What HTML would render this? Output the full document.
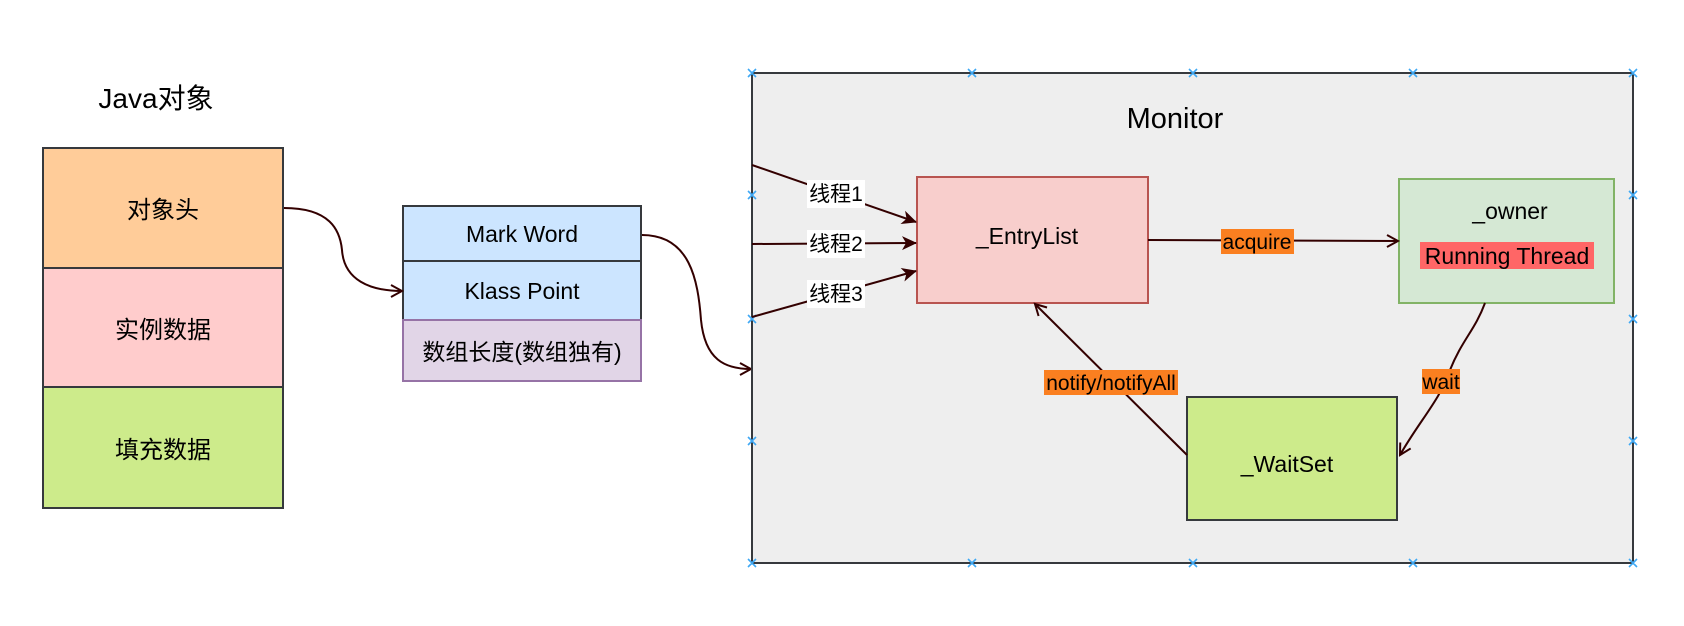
<!DOCTYPE html>
<html><head><meta charset="utf-8"><style>
html,body{margin:0;padding:0;background:#fff;}
svg{display:block;}
text{font-family:"Liberation Sans","Noto Sans CJK SC",sans-serif;fill:#000;}
</style></head><body>
<svg width="1684" height="626" viewBox="0 0 1684 626" xmlns="http://www.w3.org/2000/svg">
<defs>
<marker id="open" markerWidth="14" markerHeight="14" refX="12" refY="7" orient="auto" markerUnits="userSpaceOnUse">
<path d="M1,1 L12,7 L1,13" fill="none" stroke="#330000" stroke-width="2"/></marker>
<marker id="fill" markerWidth="16" markerHeight="16" refX="14" refY="8" orient="auto" markerUnits="userSpaceOnUse">
<path d="M0,1 L15,8 L0,15 L4,8 Z" fill="#330000"/></marker>
</defs>

<text x="156" y="108" font-size="28" text-anchor="middle">Java对象</text>
<rect x="43" y="148" width="240" height="120" fill="#ffcc99" stroke="#36393d" stroke-width="2"/>
<rect x="43" y="268" width="240" height="119" fill="#ffcccc" stroke="#36393d" stroke-width="2"/>
<rect x="43" y="387" width="240" height="121" fill="#cdeb8b" stroke="#36393d" stroke-width="2"/>
<text x="163" y="218" font-size="24" text-anchor="middle">对象头</text>
<text x="163" y="338" font-size="24" text-anchor="middle">实例数据</text>
<text x="163" y="458" font-size="24" text-anchor="middle">填充数据</text>

<rect x="403" y="206" width="238" height="55" fill="#cce5ff" stroke="#36393d" stroke-width="2"/>
<rect x="403" y="261" width="238" height="59" fill="#cce5ff" stroke="#36393d" stroke-width="2"/>
<rect x="403" y="320" width="238" height="61" fill="#e1d5e7" stroke="#9673a6" stroke-width="2"/>
<text x="522" y="242" font-size="23" text-anchor="middle">Mark Word</text>
<text x="522" y="299" font-size="23" text-anchor="middle">Klass Point</text>
<text x="522" y="360" font-size="23" text-anchor="middle">数组长度(数组独有)</text>

<path d="M284,208 C330,208 340,230 342,250 C344,280 370,291 402,291" fill="none" stroke="#330000" stroke-width="2" marker-end="url(#open)"/>
<path d="M642,235 C690,235 698,280 701,320 C705,360 725,369 751,369" fill="none" stroke="#330000" stroke-width="2" marker-end="url(#open)"/>

<rect x="752" y="73" width="881" height="490" fill="#eeeeee" stroke="#36393d" stroke-width="2"/>
<g stroke="#3fa9f5" stroke-width="1.6">
<path d="M748,69l8,8M756,69l-8,8M968,69l8,8M976,69l-8,8M1189,69l8,8M1197,69l-8,8M1409,69l8,8M1417,69l-8,8M1629,69l8,8M1637,69l-8,8"/>
<path d="M748,559l8,8M756,559l-8,8M968,559l8,8M976,559l-8,8M1189,559l8,8M1197,559l-8,8M1409,559l8,8M1417,559l-8,8M1629,559l8,8M1637,559l-8,8"/>
<path d="M748,191l8,8M756,191l-8,8M748,315l8,8M756,315l-8,8M748,437l8,8M756,437l-8,8"/>
<path d="M1629,191l8,8M1637,191l-8,8M1629,315l8,8M1637,315l-8,8M1629,437l8,8M1637,437l-8,8"/>
</g>
<text x="1175" y="128" font-size="29" text-anchor="middle">Monitor</text>

<rect x="917" y="177" width="231" height="126" fill="#f8cecc" stroke="#b85450" stroke-width="2"/>
<text x="1027" y="244" font-size="23" text-anchor="middle">_EntryList</text>
<rect x="1399" y="179" width="215" height="124" fill="#d5e8d4" stroke="#82b366" stroke-width="2"/>
<text x="1510" y="219" font-size="23" text-anchor="middle">_owner</text>
<rect x="1420" y="242" width="174" height="27" fill="#ff6666"/>
<text x="1507" y="264" font-size="23" text-anchor="middle">Running Thread</text>
<rect x="1187" y="397" width="210" height="123" fill="#cdeb8b" stroke="#36393d" stroke-width="2"/>
<text x="1287" y="472" font-size="23" text-anchor="middle">_WaitSet</text>

<line x1="752" y1="165" x2="916" y2="222" stroke="#330000" stroke-width="2" marker-end="url(#fill)"/>
<line x1="752" y1="244" x2="916" y2="243" stroke="#330000" stroke-width="2" marker-end="url(#fill)"/>
<line x1="752" y1="317" x2="916" y2="271" stroke="#330000" stroke-width="2" marker-end="url(#fill)"/>
<rect x="807" y="180" width="58" height="28" fill="#fff"/><text x="836" y="201" font-size="21" text-anchor="middle">线程1</text>
<rect x="807" y="230" width="58" height="28" fill="#fff"/><text x="836" y="251" font-size="21" text-anchor="middle">线程2</text>
<rect x="807" y="280" width="58" height="28" fill="#fff"/><text x="836" y="301" font-size="21" text-anchor="middle">线程3</text>

<line x1="1148" y1="240" x2="1398" y2="241" stroke="#330000" stroke-width="2" marker-end="url(#open)"/>
<rect x="1221" y="229" width="73" height="25" fill="#fa7f20"/>
<text x="1257" y="249" font-size="21" text-anchor="middle">acquire</text>

<line x1="1187" y1="455" x2="1035" y2="304" stroke="#330000" stroke-width="2" marker-end="url(#open)"/>
<rect x="1044" y="370" width="134" height="25" fill="#fa7f20"/>
<text x="1111" y="390" font-size="21" text-anchor="middle">notify/notifyAll</text>

<path d="M1485,303 C1475,330 1462,340 1450,370 C1440,400 1420,420 1400,455" fill="none" stroke="#330000" stroke-width="2" marker-end="url(#open)"/>
<rect x="1422" y="369" width="38" height="25" fill="#fa7f20"/>
<text x="1441" y="389" font-size="21" text-anchor="middle">wait</text>
</svg>
</body></html>
